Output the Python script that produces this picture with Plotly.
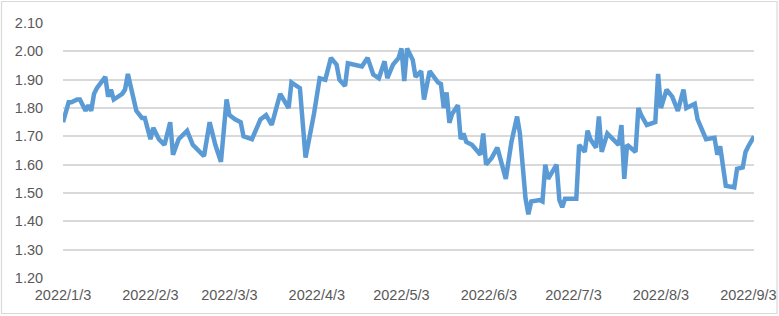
import plotly.graph_objects as go

dates = [
    "2022-01-03", "2022-01-04", "2022-01-05", "2022-01-06", "2022-01-08", "2022-01-09",
    "2022-01-11", "2022-01-12", "2022-01-13", "2022-01-14", "2022-01-15", "2022-01-18",
    "2022-01-19", "2022-01-20", "2022-01-21", "2022-01-24", "2022-01-25", "2022-01-26",
    "2022-01-28", "2022-01-29", "2022-01-31", "2022-02-01", "2022-02-03", "2022-02-04",
    "2022-02-06", "2022-02-08", "2022-02-10", "2022-02-11", "2022-02-13", "2022-02-16",
    "2022-02-18", "2022-02-22", "2022-02-24", "2022-02-26", "2022-02-28", "2022-03-02",
    "2022-03-03", "2022-03-05", "2022-03-07", "2022-03-08", "2022-03-11", "2022-03-14",
    "2022-03-16", "2022-03-18", "2022-03-21", "2022-03-24", "2022-03-25", "2022-03-28",
    "2022-03-30", "2022-04-02", "2022-04-04", "2022-04-06", "2022-04-08", "2022-04-10",
    "2022-04-11", "2022-04-13", "2022-04-14", "2022-04-19", "2022-04-21", "2022-04-23",
    "2022-04-25", "2022-04-27", "2022-04-28", "2022-04-30", "2022-05-02", "2022-05-03",
    "2022-05-04", "2022-05-05", "2022-05-07", "2022-05-08", "2022-05-10", "2022-05-11",
    "2022-05-13", "2022-05-16", "2022-05-17", "2022-05-18", "2022-05-19", "2022-05-20",
    "2022-05-21", "2022-05-23", "2022-05-24", "2022-05-25", "2022-05-26", "2022-05-28",
    "2022-05-31", "2022-06-01", "2022-06-02", "2022-06-04", "2022-06-06", "2022-06-09",
    "2022-06-11", "2022-06-13", "2022-06-14", "2022-06-16", "2022-06-17", "2022-06-18",
    "2022-06-21", "2022-06-22", "2022-06-23", "2022-06-24", "2022-06-27", "2022-06-28",
    "2022-06-29", "2022-06-30", "2022-07-04", "2022-07-05", "2022-07-07", "2022-07-08",
    "2022-07-09", "2022-07-11", "2022-07-12", "2022-07-13", "2022-07-15", "2022-07-19",
    "2022-07-20", "2022-07-21", "2022-07-22", "2022-07-25", "2022-07-26", "2022-07-27",
    "2022-07-29", "2022-08-01", "2022-08-02", "2022-08-03", "2022-08-05", "2022-08-07",
    "2022-08-09", "2022-08-11", "2022-08-12", "2022-08-15", "2022-08-16", "2022-08-19",
    "2022-08-22", "2022-08-23", "2022-08-24", "2022-08-26", "2022-08-29", "2022-08-30",
    "2022-09-01", "2022-09-02", "2022-09-03", "2022-09-04", "2022-09-05",
]

values = [
    1.75, 1.78, 1.82, 1.82, 1.83, 1.83,
    1.79, 1.81, 1.79, 1.85, 1.87, 1.91,
    1.84, 1.865, 1.83, 1.85, 1.865, 1.92,
    1.84, 1.79, 1.765, 1.765, 1.69, 1.73,
    1.69, 1.67, 1.75, 1.635, 1.69, 1.72,
    1.67, 1.63, 1.75, 1.67, 1.61, 1.83,
    1.775, 1.76, 1.75, 1.70, 1.69, 1.76,
    1.775, 1.74, 1.85, 1.80, 1.89, 1.87,
    1.625, 1.78, 1.905, 1.90, 1.977, 1.953,
    1.90, 1.878, 1.958, 1.947, 1.977, 1.918,
    1.905, 1.965, 1.905, 1.953, 1.977, 2.01,
    1.895, 2.01, 1.97, 1.91, 1.93, 1.83,
    1.93, 1.89, 1.885, 1.80, 1.855, 1.748,
    1.78, 1.81, 1.69, 1.71, 1.68, 1.67,
    1.635, 1.71, 1.60, 1.624, 1.66, 1.55,
    1.68, 1.77, 1.71, 1.48, 1.425, 1.47,
    1.475, 1.47, 1.60, 1.55, 1.60, 1.475,
    1.45, 1.48, 1.48, 1.67, 1.645, 1.72,
    1.69, 1.66, 1.77, 1.645, 1.71, 1.67,
    1.74, 1.55, 1.67, 1.645, 1.80, 1.775,
    1.74, 1.75, 1.92, 1.80, 1.865, 1.84,
    1.79, 1.865, 1.80, 1.815, 1.76, 1.69,
    1.695, 1.635, 1.665, 1.525, 1.52, 1.585,
    1.59, 1.645, 1.665, 1.68, 1.70,
]

x_tick_vals = ["2022-01-03", "2022-02-03", "2022-03-03", "2022-04-03", "2022-05-03",
               "2022-06-03", "2022-07-03", "2022-08-03", "2022-09-03"]
x_tick_text = ["2022/1/3", "2022/2/3", "2022/3/3", "2022/4/3", "2022/5/3",
               "2022/6/3", "2022/7/3", "2022/8/3", "2022/9/3"]
y_tick_vals = [1.2, 1.3, 1.4, 1.5, 1.6, 1.7, 1.8, 1.9, 2.0, 2.1]
y_tick_text = ["1.20", "1.30", "1.40", "1.50", "1.60", "1.70", "1.80", "1.90", "2.00", "2.10"]

W, H = 779, 316
ML, MR, MT, MB = 63, 25, 23, 38
PW, PH = W - ML - MR, H - MT - MB

fig = go.Figure()
fig.add_trace(go.Scatter(
    x=dates, y=values, mode="lines",
    line=dict(color="#5b9bd5", width=4.5),
    hoverinfo="skip",
))

font = dict(family="Liberation Sans, Arial, sans-serif", size=14.5, color="#595959")

fig.update_layout(
    width=W, height=H,
    margin=dict(l=ML, r=MR, t=MT, b=MB, autoexpand=False),
    paper_bgcolor="white", plot_bgcolor="white",
    showlegend=False,
    font=font,
    xaxis=dict(
        type="date", range=["2022-01-03", "2022-09-05"],
        tickmode="array", tickvals=x_tick_vals, ticktext=x_tick_text,
        showgrid=False, zeroline=False, showline=False,
        ticks="outside", ticklen=4, tickcolor="rgba(0,0,0,0)",
        tickfont=font, automargin=False,
    ),
    yaxis=dict(
        range=[1.2, 2.1],
        tickmode="array", tickvals=y_tick_vals, ticktext=y_tick_text,
        showgrid=True, gridcolor="#d9d9d9", gridwidth=1.5,
        zeroline=False, showline=False,
        ticks="outside", ticklen=16, tickcolor="rgba(0,0,0,0)",
        tickfont=font, automargin=False,
    ),
    shapes=[dict(
        type="rect", xref="paper", yref="paper",
        x0=(-ML + 1.5) / PW, x1=1 + (MR - 2) / PW,
        y0=(-MB + 2.5) / PH, y1=1 + (MT - 1.5) / PH,
        line=dict(color="#d9d9d9", width=1.2), fillcolor="rgba(0,0,0,0)",
        layer="below",
    )],
)

fig.write_html("out.html")
